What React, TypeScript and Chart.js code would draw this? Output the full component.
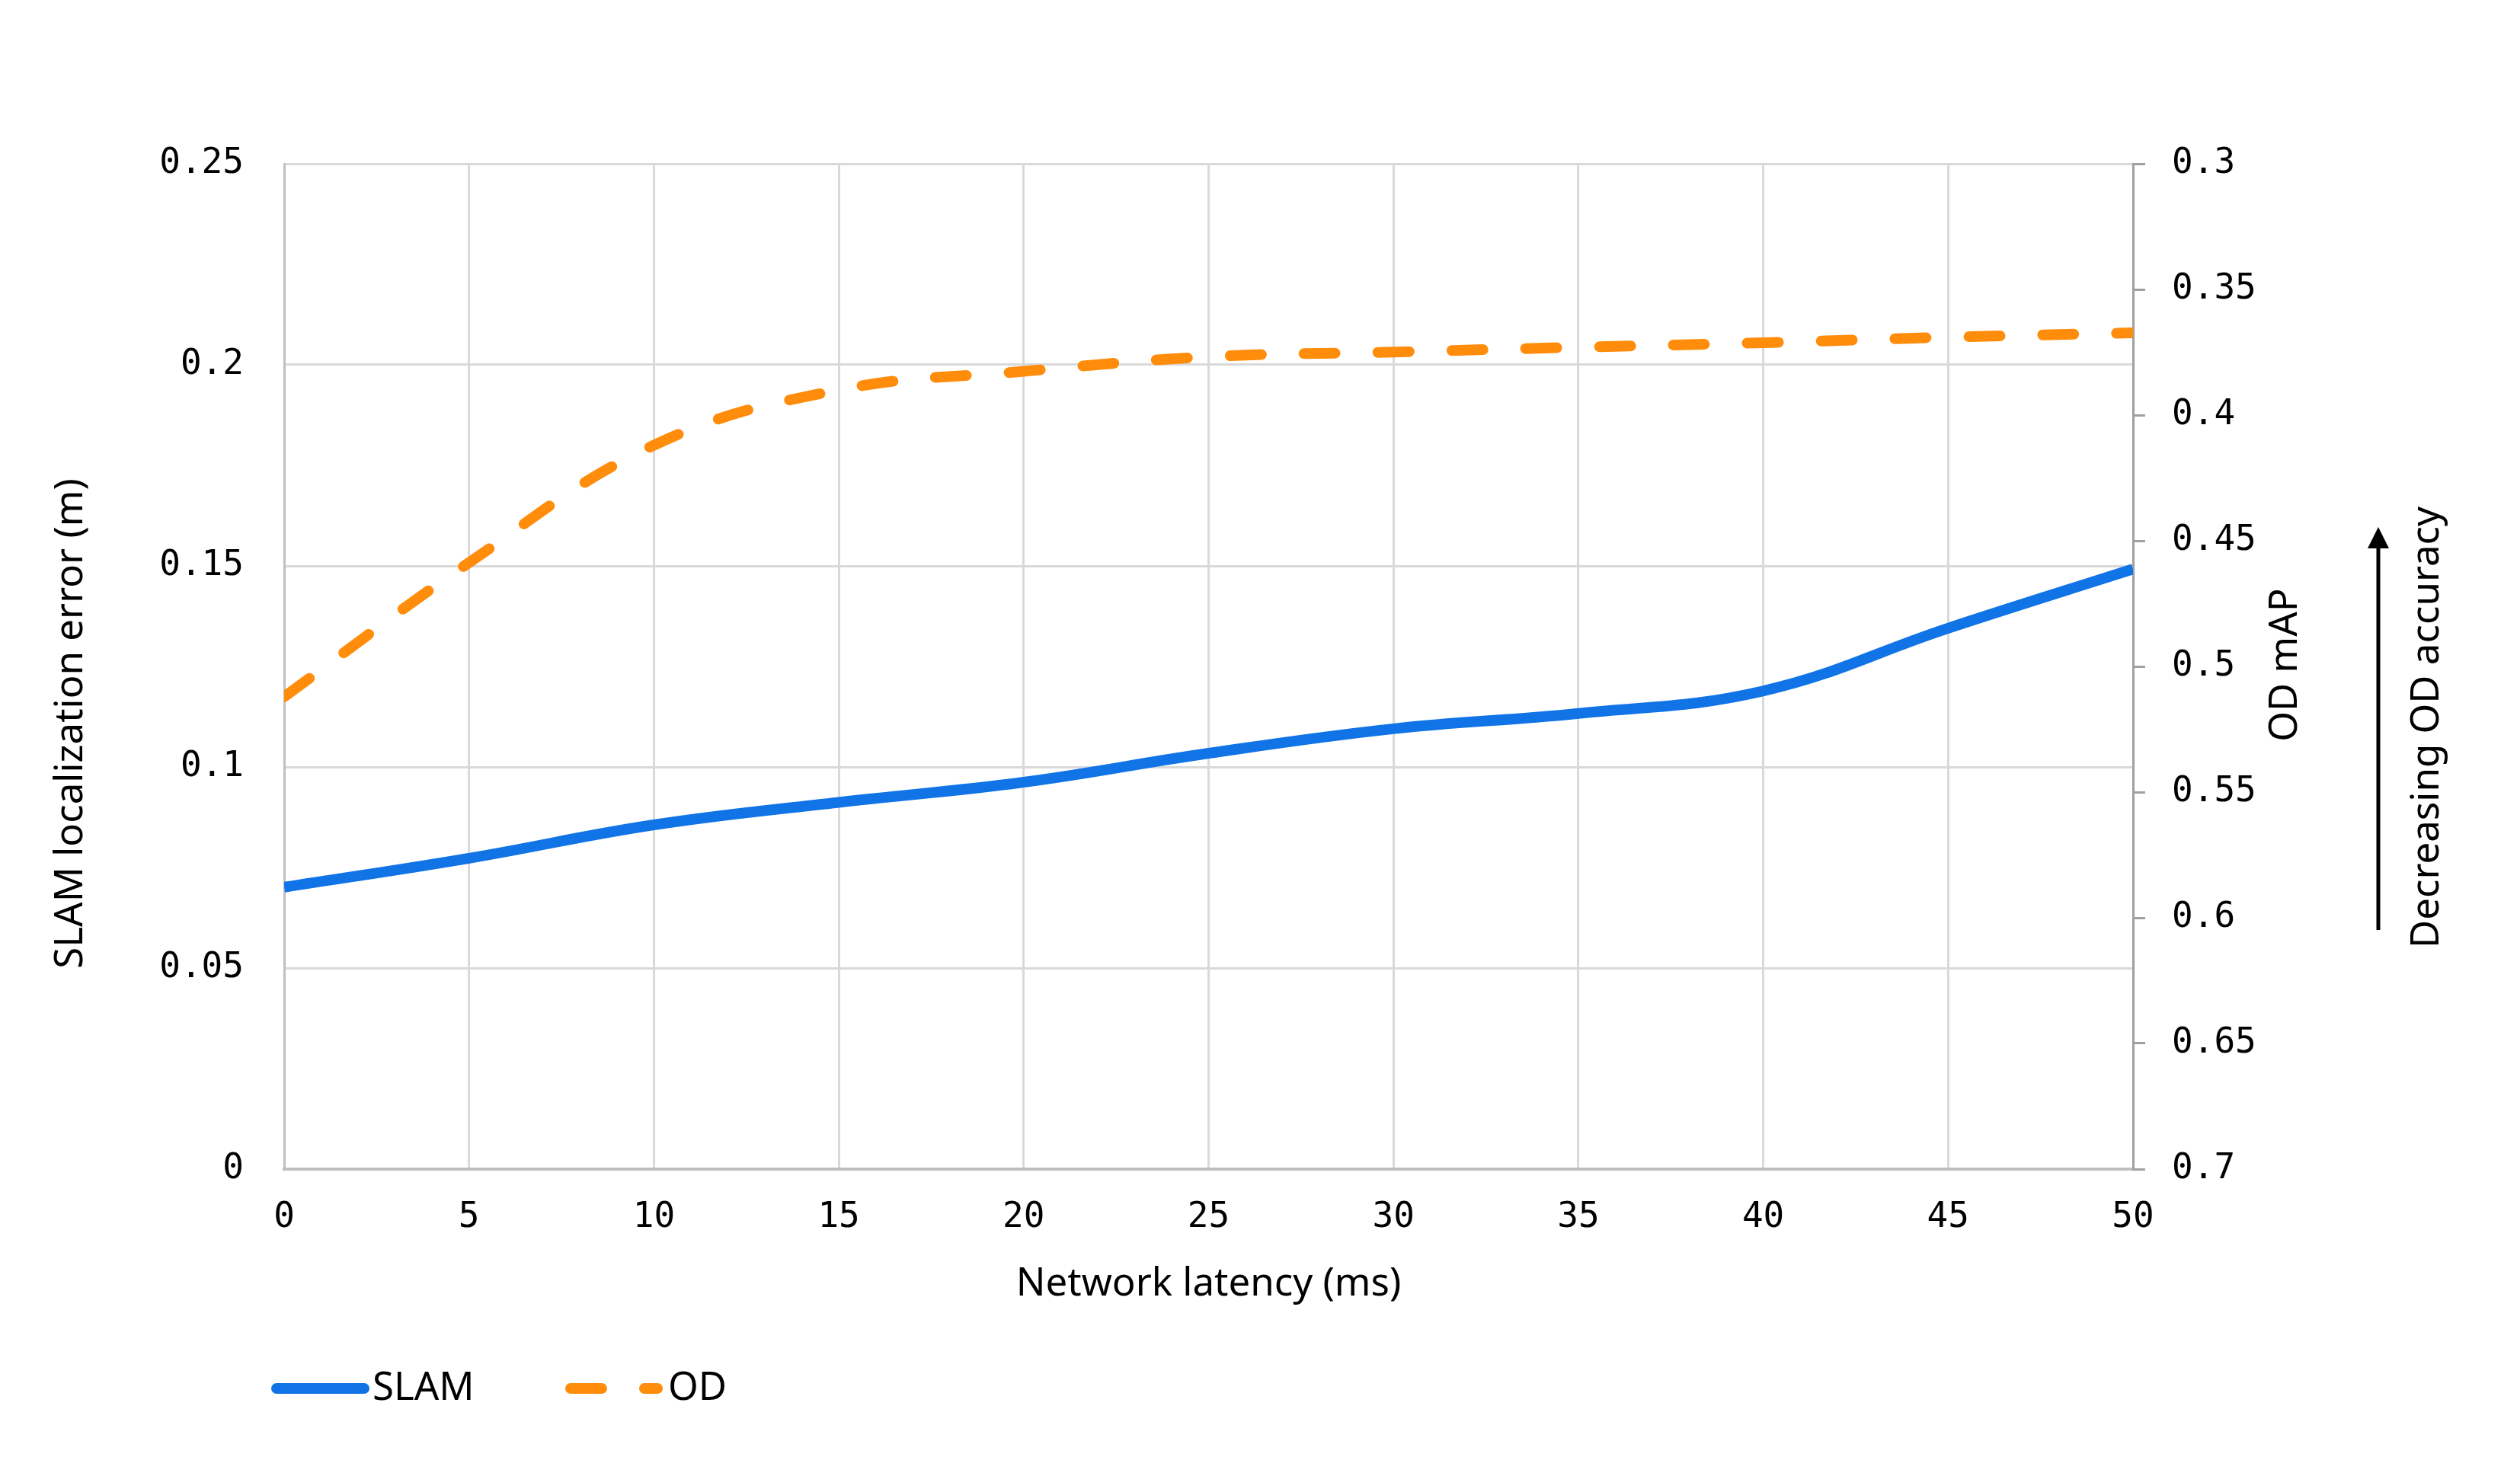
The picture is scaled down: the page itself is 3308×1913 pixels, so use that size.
import React, { useEffect, useRef } from 'react';
import { Chart, registerables } from 'chart.js';

Chart.register(...registerables);

// Network latency (ms)
const latency = [0, 5, 10, 15, 20, 25, 30, 35, 40, 45, 50];
// SLAM localization error (m), left axis
const slamError = [0.0701, 0.0773, 0.0856, 0.0912, 0.0962, 0.1034, 0.1095, 0.1133, 0.1189, 0.1345, 0.1492];
// OD mAP, right axis (reversed)
const odMap = [0.5121, 0.4587, 0.412, 0.39, 0.3826, 0.3768, 0.3749, 0.373, 0.3712, 0.369, 0.3673];

const leftTicks = ['0', '0.05', '0.1', '0.15', '0.2', '0.25'];
const rightTicks = ['0.3', '0.35', '0.4', '0.45', '0.5', '0.55', '0.6', '0.65', '0.7'];

const BLUE = '#1174E6';
const ORANGE = '#FF8C0A';
const TICK_FONT = { family: 'DejaVu Sans Mono', size: 46 };
const TITLE_FONT = '51px "Noto Sans"';

const overlay = {
  id: 'overlay',
  afterDraw(chart: Chart) {
    const ctx = chart.ctx;
    const area = chart.chartArea;
    ctx.save();
    ctx.fillStyle = '#000';
    ctx.font = TITLE_FONT;
    ctx.textAlign = 'center';
    ctx.textBaseline = 'middle';

    // x title
    ctx.fillText('Network latency (ms)', (area.left + area.right) / 2, 1686);

    // left title
    ctx.save();
    ctx.translate(93, 950);
    ctx.rotate(-Math.PI / 2);
    ctx.fillText('SLAM localization error (m)', 0, 0);
    ctx.restore();

    // right titles
    ctx.save();
    ctx.translate(3000, 873);
    ctx.rotate(-Math.PI / 2);
    ctx.fillText('OD mAP', 0, 0);
    ctx.restore();

    ctx.save();
    ctx.translate(3186, 955);
    ctx.rotate(-Math.PI / 2);
    ctx.fillText('Decreasing OD accuracy', 0, 0);
    ctx.restore();

    // arrow
    ctx.strokeStyle = '#000';
    ctx.lineWidth = 5;
    ctx.beginPath();
    ctx.moveTo(3122, 1221);
    ctx.lineTo(3122, 715);
    ctx.stroke();
    ctx.beginPath();
    ctx.moveTo(3122, 692);
    ctx.lineTo(3136, 720);
    ctx.lineTo(3108, 720);
    ctx.closePath();
    ctx.fill();

    // legend
    const ly = 1823;
    const ds = chart.data.datasets as any[];
    ctx.lineCap = 'round';
    ctx.lineWidth = 14;
    ctx.strokeStyle = ds[0].borderColor;
    ctx.setLineDash([]);
    ctx.beginPath();
    ctx.moveTo(363, ly);
    ctx.lineTo(478, ly);
    ctx.stroke();
    ctx.strokeStyle = ds[1].borderColor;
    ctx.setLineDash(ds[1].borderDash);
    ctx.beginPath();
    ctx.moveTo(749, ly);
    ctx.lineTo(863, ly);
    ctx.stroke();
    ctx.setLineDash([]);
    ctx.textAlign = 'left';
    ctx.fillText(ds[0].label, 489, ly);
    ctx.fillText(ds[1].label, 877, ly);
    ctx.restore();
  },
};

const App: React.FC = () => {
  const canvasRef = useRef<HTMLCanvasElement>(null);

  useEffect(() => {
    document.body.style.margin = '0';
    if (!canvasRef.current) return;
    const chart = new Chart(canvasRef.current, {
      type: 'line',
      data: {
        datasets: [
          {
            label: 'SLAM',
            data: latency.map((x, i) => ({ x, y: slamError[i] })),
            borderColor: BLUE,
            backgroundColor: BLUE,
            borderWidth: 14,
            pointRadius: 0,
            tension: 0.4,
            yAxisID: 'y',
          },
          {
            label: 'OD',
            data: latency.map((x, i) => ({ x, y: odMap[i] })),
            borderColor: ORANGE,
            backgroundColor: ORANGE,
            borderWidth: 14,
            borderDash: [41, 56],
            borderCapStyle: 'round',
            pointRadius: 0,
            tension: 0.4,
            yAxisID: 'y1',
          },
        ],
      },
      options: {
        animation: false,
        responsive: false,
        maintainAspectRatio: false,
        layout: { padding: { top: 215, left: 0, right: 0, bottom: 0 } },
        plugins: { legend: { display: false }, tooltip: { enabled: false } },
        scales: {
          x: {
            type: 'linear',
            min: 0,
            max: 50,
            ticks: { stepSize: 5, color: '#000', font: TICK_FONT, padding: 36, maxRotation: 0 },
            grid: { color: '#d9d9d9', lineWidth: 3, drawTicks: false },
            border: { color: '#bfbfbf', width: 4 },
            afterFit: (s: any) => { s.height = 378; },
          },
          y: {
            position: 'left',
            min: 0,
            max: 0.25,
            ticks: {
              stepSize: 0.05,
              color: '#000',
              font: TICK_FONT,
              padding: 53,
              callback: (v: any) => leftTicks[Math.round(Number(v) / 0.05)],
            },
            grid: { color: '#d9d9d9', lineWidth: 3, drawTicks: false },
            border: { color: '#bfbfbf', width: 3 },
            afterFit: (s: any) => { s.width = 373; },
          },
          y1: {
            position: 'right',
            reverse: true,
            min: 0.3,
            max: 0.7,
            ticks: {
              stepSize: 0.05,
              color: '#000',
              font: TICK_FONT,
              padding: 35,
              callback: (v: any) => rightTicks[Math.round((Number(v) - 0.3) / 0.05)],
            },
            grid: { drawOnChartArea: false, drawTicks: true, tickLength: 16, color: '#a0a0a0', lineWidth: 3 },
            border: { color: '#a0a0a0', width: 3 },
            afterFit: (s: any) => { s.width = 508; },
          },
        },
      },
      plugins: [overlay],
    });
    return () => chart.destroy();
  }, []);

  return (
    <div style={{ width: 3308, height: 1913, background: '#fff' }}>
      <canvas ref={canvasRef} width={3308} height={1913} style={{ width: 3308, height: 1913 }} />
    </div>
  );
};

export default App;
